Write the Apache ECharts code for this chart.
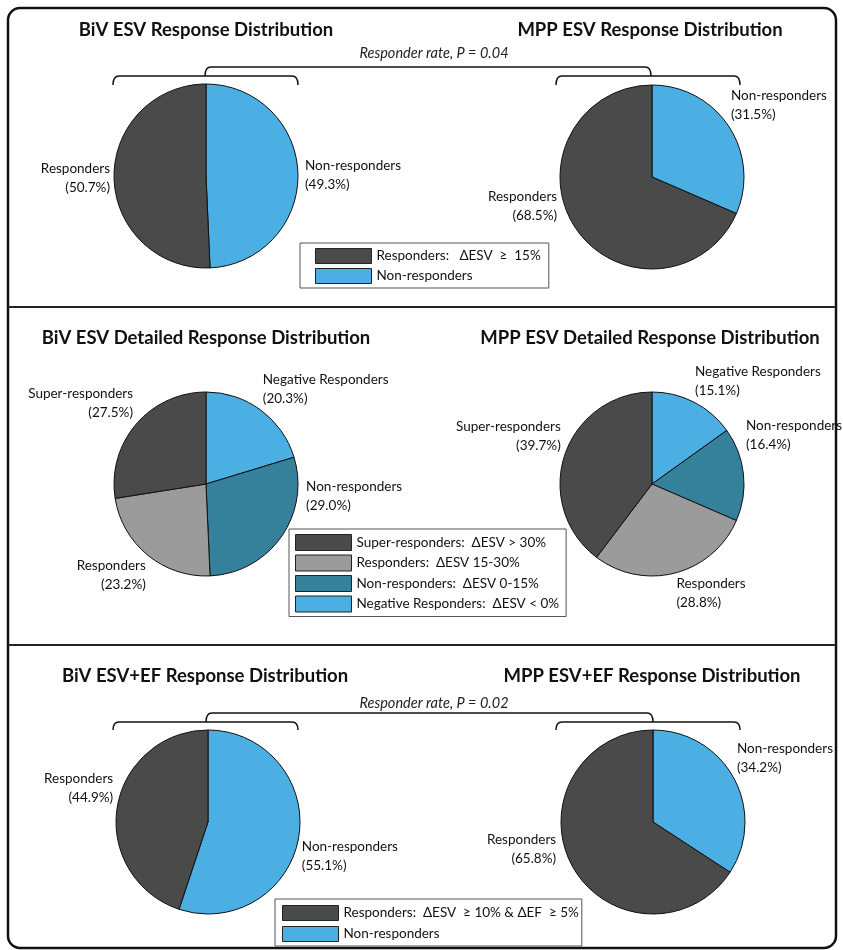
<!DOCTYPE html>
<html><head><meta charset="utf-8">
<script src="https://cdn.jsdelivr.net/npm/echarts@6/dist/echarts.min.js"></script>
<style>html,body{margin:0;padding:0;background:#fff}#c{width:843px;height:950px}</style>
</head><body><div id="c"></div>
<script>
// ---------------- DATA ----------------
const titles = ['BiV ESV Response Distribution', 'MPP ESV Response Distribution',
  'BiV ESV Detailed Response Distribution', 'MPP ESV Detailed Response Distribution',
  'BiV ESV+EF Response Distribution', 'MPP ESV+EF Response Distribution'];
const pValueNotes = ['Responder rate, P = 0.04', 'Responder rate, P = 0.02'];

const esvCategories = ['Non-responders', 'Responders'];
const esvLegend = ['Non-responders', 'Responders:   \u0394ESV  \u2265  15%'];
const bivEsv = [49.3, 50.7];
const mppEsv = [31.5, 68.5];

const detailedCategories = ['Negative Responders', 'Non-responders', 'Responders', 'Super-responders'];
const detailedLegend = ['Negative Responders:  \u0394ESV < 0%', 'Non-responders:  \u0394ESV 0-15%',
  'Responders:  \u0394ESV 15-30%', 'Super-responders:  \u0394ESV > 30%'];
const bivDetailed = [20.3, 29.0, 23.2, 27.5];
const mppDetailed = [15.1, 16.4, 28.8, 39.7];

const esvEfCategories = ['Non-responders', 'Responders'];
const esvEfLegend = ['Non-responders', 'Responders:  \u0394ESV  \u2265 10% & \u0394EF  \u2265 5%'];
const bivEsvEf = [55.1, 44.9];
const mppEsvEf = [34.2, 65.8];

// ---------------- STYLE / LAYOUT ----------------
const FONT = 'Lato, "DejaVu Sans", sans-serif';
const BLUE = '#4bafe3', DARK = '#4a4a4a', TEAL = '#35809b', GREY = '#9b9b9b';
const twoColors = [BLUE, DARK];
const fourColors = [BLUE, TEAL, GREY, DARK];
const R = 92;

const pies = [
  {values: bivEsv, cats: esvCategories, names: esvLegend, colors: twoColors, center: [206, 176], shift: [[2, 1], [1, 0]]},
  {values: mppEsv, cats: esvCategories, names: esvLegend, colors: twoColors, center: [652, 177], shift: [[-3, -21], [-13, -21]]},
  {values: bivDetailed, cats: detailedCategories, names: detailedLegend, colors: fourColors, center: [206, 484], shift: [[-3, -20.5], [20, -41], [3, 20], [2, -21]]},
  {values: mppDetailed, cats: detailedCategories, names: detailedLegend, colors: fourColors, center: [652, 484], shift: [[-4, -21], [-2.5, -39], [-4, 20.5], [1, -19]]},
  {values: bivEsvEf, cats: esvEfCategories, names: esvEfLegend, colors: twoColors, center: [208, 822], shift: [[-2, 19.5], [1, -19]]},
  {values: mppEsvEf, cats: esvEfCategories, names: esvEfLegend, colors: twoColors, center: [653, 822], shift: [[-2, -20], [-11, -16.5]]}
];

const series = pies.map(p => ({
  type: 'pie',
  center: p.center,
  radius: R,
  startAngle: 90,
  clockwise: true,
  avoidLabelOverlap: false,
  animation: false,
  emphasis: {disabled: true},
  itemStyle: {borderColor: '#111', borderWidth: 1},
  label: {
    show: true, position: 'outside', alignTo: 'none', distanceToLabelLine: 5,
    fontFamily: FONT, fontSize: 13.5, lineHeight: 19, color: '#111',
    formatter: q => q.data.cat + '\n(' + q.value.toFixed(1) + '%)'
  },
  labelLine: {show: false, length: 0, length2: 0},
  labelLayout: q => { const s = p.shift[q.dataIndex]; return {dx: s[0], dy: s[1]}; },
  data: p.values.map((v, i) => ({name: p.names[i], value: v, cat: p.cats[i], itemStyle: {color: p.colors[i]}}))
}));

const legendCommon = {
  orient: 'vertical', icon: 'rect', itemWidth: 56, itemHeight: 15,
  backgroundColor: '#fff', borderColor: '#555', borderWidth: 1, borderRadius: 0,
  selectedMode: false,
  itemStyle: {borderColor: '#222', borderWidth: 1},
  textStyle: {fontFamily: FONT, fontSize: 13.5, color: '#111', lineHeight: 15}
};
const legends = [
  Object.assign({}, legendCommon, {data: esvLegend.slice().reverse(), left: 300, top: 243, padding: [5, 8, 4, 15], itemGap: 4}),
  Object.assign({}, legendCommon, {data: detailedLegend.slice().reverse(), left: 289, top: 529, padding: [5, 7, 4, 6], itemGap: 3.5, itemHeight: 16}),
  Object.assign({}, legendCommon, {data: esvEfLegend.slice().reverse(), left: 275, top: 899, padding: [6, 3, 4, 7], itemGap: 5})
];

// ---------------- DECORATION ----------------
const strokeStyle = {stroke: '#111', lineWidth: 1.5, fill: null};
function bracket(x1, x2, y, yEnd, r) {
  return [
    {type: 'bezierCurve', shape: {x1: x1, y1: yEnd, cpx1: x1, cpy1: y, x2: x1 + r, y2: y}, style: strokeStyle, z: 5},
    {type: 'line', shape: {x1: x1 + r, y1: y, x2: x2 - r, y2: y}, style: strokeStyle, z: 5},
    {type: 'bezierCurve', shape: {x1: x2 - r, y1: y, cpx1: x2, cpy1: y, x2: x2, y2: yEnd}, style: strokeStyle, z: 5}
  ];
}
const titlePos = [[206, 30], [650, 30], [206, 338], [650, 338], [205, 676], [652, 676]];
let graphic = [
  {type: 'rect', shape: {x: 8, y: 8, width: 828, height: 940, r: 12}, style: {fill: null, stroke: '#111', lineWidth: 2.5}},
  {type: 'line', shape: {x1: 8, y1: 307, x2: 836, y2: 307}, style: {stroke: '#222', lineWidth: 2}},
  {type: 'line', shape: {x1: 8, y1: 645, x2: 836, y2: 645}, style: {stroke: '#222', lineWidth: 2}},
  {type: 'text', x: 434, y: 53, style: {text: pValueNotes[0], font: 'italic 14.5px ' + FONT, fill: '#222', align: 'center', verticalAlign: 'middle'}},
  {type: 'text', x: 434, y: 703, style: {text: pValueNotes[1], font: 'italic 14.5px ' + FONT, fill: '#222', align: 'center', verticalAlign: 'middle'}}
];
graphic = graphic
  .concat(bracket(113, 298, 76, 85, 6), bracket(556, 740, 76, 85, 6), bracket(205, 651, 67, 76, 6))
  .concat(bracket(113, 298, 722, 730, 6), bracket(556, 740, 722, 730, 6), bracket(206, 653, 713, 722, 6))
  .concat(titles.map((t, i) => ({type: 'text', x: titlePos[i][0], y: titlePos[i][1],
    style: {text: t, font: 'bold 18.5px ' + FONT, fill: '#111', align: 'center', verticalAlign: 'middle'}})));

const chart = echarts.init(document.getElementById('c'), null, {renderer: 'canvas'});
chart.setOption({
  backgroundColor: '#fff',
  animation: false,
  legend: legends,
  series: series,
  graphic: graphic
});
</script></body></html>
